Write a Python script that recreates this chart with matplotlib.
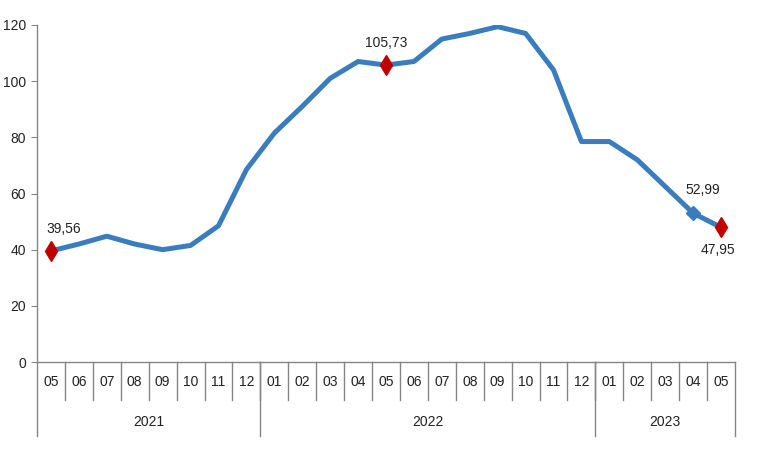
import matplotlib
matplotlib.use('Agg')
import matplotlib.pyplot as plt
from matplotlib.lines import Line2D

plt.rcParams['font.family'] = ['Liberation Sans Narrow', 'Liberation Sans', 'DejaVu Sans']

# data
months = ['05', '06', '07', '08', '09', '10', '11', '12',
          '01', '02', '03', '04', '05', '06', '07', '08', '09', '10', '11', '12',
          '01', '02', '03', '04', '05']
years = ['2021', '2022', '2023']
year_len = [8, 12, 5]
values = [39.56, 42.0, 44.8, 42.0, 40.0, 41.5, 48.5, 68.5, 81.5, 91.0, 101.0, 107.0,
          105.73, 107.0, 115.0, 117.0, 119.4, 117.0, 104.0, 78.5, 78.5, 72.0, 62.5,
          52.99, 47.95]
red_idx = [0, 12, 24]
blue_idx = [23]
labels = {0: '39,56', 12: '105,73', 23: '52,99', 24: '47,95'}
label_off = {0: (9, 16), 12: (0, 16), 23: (7, 17), 24: (-2, -16)}

line_col = '#3a7dbf'
red = '#c00000'
grid_col = '#868686'

W, H = 760, 450
fig = plt.figure(figsize=(7.6, 4.5), dpi=100)
ax_h = 337
ax = fig.add_axes([37 / W, 88 / H, 698 / W, ax_h / H])

x = list(range(len(values)))
ax.plot(x, values, color=line_col, lw=3.6, solid_joinstyle='round', zorder=2)
ax.plot(red_idx, [values[i] for i in red_idx], 'd', color=red, ms=10, zorder=3)
ax.plot(blue_idx, [values[i] for i in blue_idx], 'D', color=line_col, ms=7, zorder=3)

for i, s in labels.items():
    dx, dy = label_off[i]
    ax.annotate(s, (i, values[i]), xytext=(dx, dy), textcoords='offset points',
                ha='center', va='center', fontsize=10, color='#222222')

ax.set_xlim(-0.5, len(values) - 0.5)
ax.set_ylim(0, 120)
ax.set_yticks(range(0, 121, 20))
ax.tick_params(axis='y', length=4, color=grid_col, labelsize=10, pad=4, labelcolor='#222222')
ax.set_xticks([])
for s in ['top', 'right']:
    ax.spines[s].set_visible(False)
for s in ['left', 'bottom']:
    ax.spines[s].set_color(grid_col)
    ax.spines[s].set_linewidth(1)

# category axis with months and years
tr = ax.get_xaxis_transform()
for i, m in enumerate(months):
    ax.text(i, -20 / ax_h, m, transform=tr, ha='center', va='center',
            fontsize=10, color='#222222')
for b in range(1, len(months)):
    ax.add_line(Line2D([b - 0.5, b - 0.5], [0, -38 / ax_h], transform=tr,
                       color=grid_col, lw=1, clip_on=False))

start = 0
edges = [-0.5]
for y, n in zip(years, year_len):
    mid = start + (n - 1) / 2
    ax.text(mid, -60 / ax_h, y, transform=tr, ha='center', va='center',
            fontsize=10, color='#222222')
    start += n
    edges.append(start - 0.5)
for e in edges:
    ax.add_line(Line2D([e, e], [0, -74 / ax_h], transform=tr,
                       color=grid_col, lw=1, clip_on=False))

plt.savefig('out.png', dpi=100)
